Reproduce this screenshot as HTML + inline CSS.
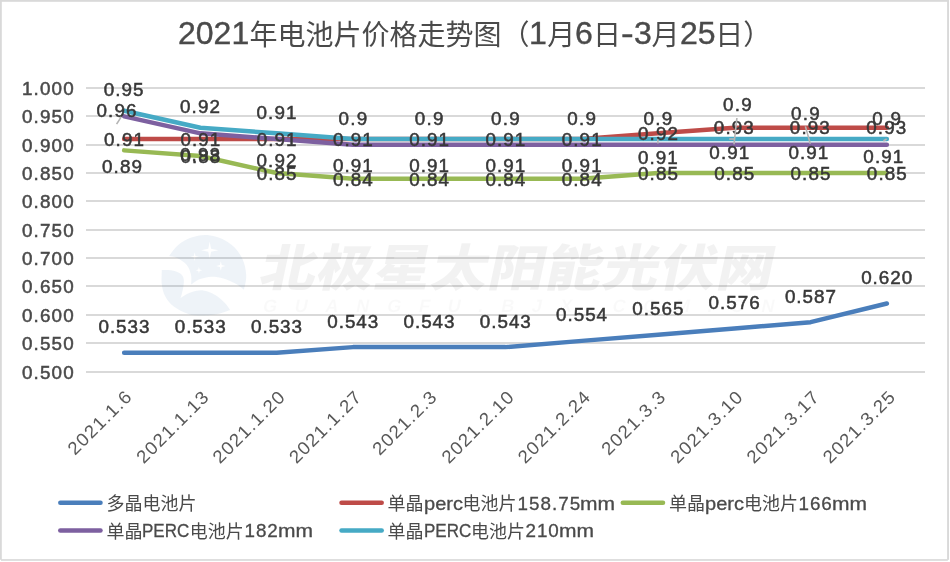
<!DOCTYPE html>
<html lang="zh-CN">
<head>
<meta charset="utf-8">
<title>2021年电池片价格走势图（1月6日-3月25日）</title>
<style>
html,body{margin:0;padding:0;background:#fff;}
body{width:950px;height:562px;overflow:hidden;position:relative;}
#chart{position:absolute;left:0;top:0;width:950px;height:562px;overflow:hidden;background:#fff;}
#chart svg{position:absolute;left:0;top:0;display:block;}
svg text{font-family:"Liberation Sans", sans-serif;}
.t{position:absolute;white-space:nowrap;font-family:"Liberation Sans", "Noto Sans CJK SC", sans-serif;margin:0;padding:0;font-weight:400;}
.t .l{display:inline-block;font-weight:normal;transform-origin:0 50%;-webkit-text-stroke:0.3px;position:relative;}
#title .l{top:-1px;-webkit-text-stroke:0.4px;}
.lg .l{top:-0.3px;}
#title{left:178.2px;top:17.5px;font-size:28px;line-height:34px;height:34px;color:#4a4a4a;}
.lg{font-size:18px;line-height:24px;height:24px;color:#4a4a4a;}
.ax{fill:#4a4a4a;stroke:#4a4a4a;stroke-width:0.5px;font-size:18.1px;}
.dl{fill:#383838;stroke:#383838;stroke-width:0.5px;font-size:18.1px;text-anchor:middle;}
svg text.wm{font-family:"Liberation Sans","Noto Sans CJK SC",sans-serif;font-weight:900;}
</style>
</head>
<body>
<div id="chart">
<svg width="950" height="562" viewBox="0 0 950 562">
<rect x="0" y="0" width="950" height="562" fill="#ffffff"/>
<g fill="#d9d9d9">
<rect x="0" y="0" width="948" height="1.8"/>
<rect x="0" y="0" width="1.8" height="559.8"/>
<rect x="947.1" y="0" width="1.9" height="559.8"/>
<rect x="1" y="559.15" width="946.8" height="1.65"/>
</g>
<g stroke="#d9d9d9" stroke-width="2" fill="none">
<line x1="86" y1="88" x2="925" y2="88"/>
<line x1="86" y1="116" x2="925" y2="116"/>
<line x1="86" y1="145" x2="925" y2="145"/>
<line x1="86" y1="173" x2="925" y2="173"/>
<line x1="86" y1="201" x2="925" y2="201"/>
<line x1="86" y1="230" x2="925" y2="230"/>
<line x1="86" y1="258" x2="925" y2="258"/>
<line x1="86" y1="286" x2="925" y2="286"/>
<line x1="86" y1="315" x2="925" y2="315"/>
<line x1="86" y1="343" x2="925" y2="343"/>
<line x1="86" y1="372" x2="925" y2="372"/>
</g>
<g fill="none" stroke-width="4.5" stroke-linecap="round" stroke-linejoin="round">
<polyline stroke="#4a7ebb" points="124.14,352.79 200.41,352.79 276.68,352.79 352.95,347.12 429.23,347.12 505.50,347.12 581.77,340.88 658.05,334.65 734.32,328.41 810.59,322.17 886.86,303.46"/>
<polyline stroke="#be4b48" points="124.14,139.03 200.41,139.03 276.68,139.03 352.95,139.03 429.23,139.03 505.50,139.03 581.77,139.03 658.05,133.36 734.32,127.69 810.59,127.69 886.86,127.69"/>
<polyline stroke="#98b954" points="124.14,150.37 200.41,156.04 276.68,173.05 352.95,178.72 429.23,178.72 505.50,178.72 581.77,178.72 658.05,173.05 734.32,173.05 810.59,173.05 886.86,173.05"/>
<polyline stroke="#7d60a0" points="124.14,116.35 200.41,133.36 276.68,139.03 352.95,144.70 429.23,144.70 505.50,144.70 581.77,144.70 658.05,144.70 734.32,144.70 810.59,144.70 886.86,144.70"/>
<polyline stroke="#46aac5" points="124.14,110.68 200.41,127.69 276.68,133.36 352.95,139.03 429.23,139.03 505.50,139.03 581.77,139.03 658.05,139.03 734.32,139.03 810.59,139.03 886.86,139.03"/>
</g>
<g class="ax" text-anchor="end">
<text transform="translate(73.6 94.60) scale(1.04 1)" textLength="49.70" lengthAdjust="spacing">1.000</text>
<text transform="translate(73.6 122.60) scale(1.04 1)" textLength="49.70" lengthAdjust="spacing">0.950</text>
<text transform="translate(73.6 151.60) scale(1.04 1)" textLength="49.70" lengthAdjust="spacing">0.900</text>
<text transform="translate(73.6 179.60) scale(1.04 1)" textLength="49.70" lengthAdjust="spacing">0.850</text>
<text transform="translate(73.6 207.60) scale(1.04 1)" textLength="49.70" lengthAdjust="spacing">0.800</text>
<text transform="translate(73.6 236.60) scale(1.04 1)" textLength="49.70" lengthAdjust="spacing">0.750</text>
<text transform="translate(73.6 264.60) scale(1.04 1)" textLength="49.70" lengthAdjust="spacing">0.700</text>
<text transform="translate(73.6 292.60) scale(1.04 1)" textLength="49.70" lengthAdjust="spacing">0.650</text>
<text transform="translate(73.6 321.60) scale(1.04 1)" textLength="49.70" lengthAdjust="spacing">0.600</text>
<text transform="translate(73.6 349.60) scale(1.04 1)" textLength="49.70" lengthAdjust="spacing">0.550</text>
<text transform="translate(73.6 378.60) scale(1.04 1)" textLength="49.70" lengthAdjust="spacing">0.500</text>
</g>
<g class="ax" text-anchor="end" style="fill:#595959;stroke:#595959;stroke-width:0.0px">
<text transform="translate(132.75 398.30) rotate(-45) scale(1.04 1)" textLength="78.61" lengthAdjust="spacing">2021.1.6</text>
<text transform="translate(209.72 398.50) rotate(-45) scale(1.04 1)" textLength="89.61" lengthAdjust="spacing">2021.1.13</text>
<text transform="translate(286.00 398.50) rotate(-45) scale(1.04 1)" textLength="89.61" lengthAdjust="spacing">2021.1.20</text>
<text transform="translate(362.27 398.50) rotate(-45) scale(1.04 1)" textLength="89.61" lengthAdjust="spacing">2021.1.27</text>
<text transform="translate(437.64 398.50) rotate(-45) scale(1.04 1)" textLength="78.61" lengthAdjust="spacing">2021.2.3</text>
<text transform="translate(514.81 398.50) rotate(-45) scale(1.04 1)" textLength="89.61" lengthAdjust="spacing">2021.2.10</text>
<text transform="translate(591.09 398.50) rotate(-45) scale(1.04 1)" textLength="89.61" lengthAdjust="spacing">2021.2.24</text>
<text transform="translate(666.46 398.50) rotate(-45) scale(1.04 1)" textLength="78.61" lengthAdjust="spacing">2021.3.3</text>
<text transform="translate(743.63 398.50) rotate(-45) scale(1.04 1)" textLength="89.61" lengthAdjust="spacing">2021.3.10</text>
<text transform="translate(819.90 398.50) rotate(-45) scale(1.04 1)" textLength="89.61" lengthAdjust="spacing">2021.3.17</text>
<text transform="translate(896.18 398.50) rotate(-45) scale(1.04 1)" textLength="89.61" lengthAdjust="spacing">2021.3.25</text>
</g>
<g class="dl">
<text transform="translate(123.94 333.39) scale(1.04 1)" textLength="49.05" lengthAdjust="spacing">0.533</text>
<text transform="translate(200.21 333.39) scale(1.04 1)" textLength="49.05" lengthAdjust="spacing">0.533</text>
<text transform="translate(276.48 333.39) scale(1.04 1)" textLength="49.05" lengthAdjust="spacing">0.533</text>
<text transform="translate(352.75 327.72) scale(1.04 1)" textLength="49.05" lengthAdjust="spacing">0.543</text>
<text transform="translate(429.03 327.72) scale(1.04 1)" textLength="49.05" lengthAdjust="spacing">0.543</text>
<text transform="translate(505.30 327.72) scale(1.04 1)" textLength="49.05" lengthAdjust="spacing">0.543</text>
<text transform="translate(581.57 321.48) scale(1.04 1)" textLength="49.05" lengthAdjust="spacing">0.554</text>
<text transform="translate(657.85 315.25) scale(1.04 1)" textLength="49.05" lengthAdjust="spacing">0.565</text>
<text transform="translate(734.12 309.01) scale(1.04 1)" textLength="49.05" lengthAdjust="spacing">0.576</text>
<text transform="translate(810.39 302.77) scale(1.04 1)" textLength="49.05" lengthAdjust="spacing">0.587</text>
<text transform="translate(886.66 284.06) scale(1.04 1)" textLength="49.05" lengthAdjust="spacing">0.620</text>
<text transform="translate(124.00 145.83) scale(1.04 1)" textLength="38.32" lengthAdjust="spacing">0.91</text>
<text transform="translate(200.31 145.83) scale(1.04 1)" textLength="38.32" lengthAdjust="spacing">0.91</text>
<text transform="translate(276.58 145.83) scale(1.04 1)" textLength="38.32" lengthAdjust="spacing">0.91</text>
<text transform="translate(352.85 145.83) scale(1.04 1)" textLength="38.32" lengthAdjust="spacing">0.91</text>
<text transform="translate(429.13 145.83) scale(1.04 1)" textLength="38.32" lengthAdjust="spacing">0.91</text>
<text transform="translate(505.40 145.83) scale(1.04 1)" textLength="38.32" lengthAdjust="spacing">0.91</text>
<text transform="translate(581.67 145.83) scale(1.04 1)" textLength="38.32" lengthAdjust="spacing">0.91</text>
<text transform="translate(657.95 140.16) scale(1.04 1)" textLength="38.32" lengthAdjust="spacing">0.92</text>
<text transform="translate(733.80 134.49) scale(1.04 1)" textLength="38.32" lengthAdjust="spacing">0.93</text>
<text transform="translate(809.80 134.49) scale(1.04 1)" textLength="38.32" lengthAdjust="spacing">0.93</text>
<text transform="translate(886.20 134.49) scale(1.04 1)" textLength="38.32" lengthAdjust="spacing">0.93</text>
<text transform="translate(122.00 173.00) scale(1.04 1)" textLength="38.32" lengthAdjust="spacing">0.89</text>
<text transform="translate(200.31 162.84) scale(1.04 1)" textLength="38.32" lengthAdjust="spacing">0.88</text>
<text transform="translate(276.58 179.85) scale(1.04 1)" textLength="38.32" lengthAdjust="spacing">0.85</text>
<text transform="translate(352.85 185.52) scale(1.04 1)" textLength="38.32" lengthAdjust="spacing">0.84</text>
<text transform="translate(429.13 185.52) scale(1.04 1)" textLength="38.32" lengthAdjust="spacing">0.84</text>
<text transform="translate(505.40 185.52) scale(1.04 1)" textLength="38.32" lengthAdjust="spacing">0.84</text>
<text transform="translate(581.67 185.52) scale(1.04 1)" textLength="38.32" lengthAdjust="spacing">0.84</text>
<text transform="translate(657.95 179.85) scale(1.04 1)" textLength="38.32" lengthAdjust="spacing">0.85</text>
<text transform="translate(734.22 179.85) scale(1.04 1)" textLength="38.32" lengthAdjust="spacing">0.85</text>
<text transform="translate(810.49 179.85) scale(1.04 1)" textLength="38.32" lengthAdjust="spacing">0.85</text>
<text transform="translate(886.76 179.85) scale(1.04 1)" textLength="38.32" lengthAdjust="spacing">0.85</text>
<text transform="translate(123.65 96.00) scale(1.04 1)" textLength="38.32" lengthAdjust="spacing">0.95</text>
<text transform="translate(200.00 113.00) scale(1.04 1)" textLength="38.32" lengthAdjust="spacing">0.92</text>
<text transform="translate(276.50 118.90) scale(1.04 1)" textLength="38.32" lengthAdjust="spacing">0.91</text>
<text transform="translate(352.85 124.80) scale(1.04 1)" textLength="27.59" lengthAdjust="spacing">0.9</text>
<text transform="translate(429.13 124.80) scale(1.04 1)" textLength="27.59" lengthAdjust="spacing">0.9</text>
<text transform="translate(505.40 124.80) scale(1.04 1)" textLength="27.59" lengthAdjust="spacing">0.9</text>
<text transform="translate(581.67 124.80) scale(1.04 1)" textLength="27.59" lengthAdjust="spacing">0.9</text>
<text transform="translate(657.90 124.70) scale(1.04 1)" textLength="27.59" lengthAdjust="spacing">0.9</text>
<text transform="translate(737.40 111.00) scale(1.04 1)" textLength="27.59" lengthAdjust="spacing">0.9</text>
<text transform="translate(805.40 119.70) scale(1.04 1)" textLength="27.59" lengthAdjust="spacing">0.9</text>
<text transform="translate(886.70 124.50) scale(1.04 1)" textLength="27.59" lengthAdjust="spacing">0.9</text>
<text transform="translate(116.50 117.00) scale(1.04 1)" textLength="38.32" lengthAdjust="spacing">0.96</text>
<text transform="translate(200.00 161.20) scale(1.04 1)" textLength="38.32" lengthAdjust="spacing">0.93</text>
<text transform="translate(276.50 167.20) scale(1.04 1)" textLength="38.32" lengthAdjust="spacing">0.92</text>
<text transform="translate(352.85 172.30) scale(1.04 1)" textLength="38.32" lengthAdjust="spacing">0.91</text>
<text transform="translate(429.13 172.30) scale(1.04 1)" textLength="38.32" lengthAdjust="spacing">0.91</text>
<text transform="translate(505.40 172.30) scale(1.04 1)" textLength="38.32" lengthAdjust="spacing">0.91</text>
<text transform="translate(581.67 172.30) scale(1.04 1)" textLength="38.32" lengthAdjust="spacing">0.91</text>
<text transform="translate(657.90 163.80) scale(1.04 1)" textLength="38.32" lengthAdjust="spacing">0.91</text>
<text transform="translate(729.30 159.00) scale(1.04 1)" textLength="38.32" lengthAdjust="spacing">0.91</text>
<text transform="translate(808.40 158.50) scale(1.04 1)" textLength="38.32" lengthAdjust="spacing">0.91</text>
<text transform="translate(883.30 163.30) scale(1.04 1)" textLength="38.32" lengthAdjust="spacing">0.91</text>
</g>
<g stroke="#b4b4b4" stroke-width="1.6" fill="none">
<line x1="121.2" y1="116.8" x2="116.6" y2="124.2"/>
<line x1="657.9" y1="139.2" x2="657.9" y2="143.6"/>
<line x1="736.9" y1="118.0" x2="734.0" y2="144.4"/>
<line x1="729.2" y1="139.0" x2="734.2" y2="139.0"/>
<line x1="805.4" y1="126.4" x2="810.3" y2="143.8"/>
<line x1="883.4" y1="141.0" x2="886.6" y2="139.0"/>
</g>
<g fill="none" stroke-width="4.5" stroke-linecap="round">
<line stroke="#4a7ebb" x1="60.3" y1="502.8" x2="100.5" y2="502.8"/>
<line stroke="#be4b48" x1="341.5" y1="502.8" x2="381.7" y2="502.8"/>
<line stroke="#98b954" x1="622.8" y1="502.8" x2="663.0" y2="502.8"/>
<line stroke="#7d60a0" x1="60.3" y1="530.6" x2="100.5" y2="530.6"/>
<line stroke="#46aac5" x1="341.5" y1="530.6" x2="381.7" y2="530.6"/>
</g>
<g id="watermark">
<path fill="#2a69a7" fill-opacity="0.08" fill-rule="evenodd" d="M169.1 256.0 C170.4 254.4 173.7 249.2 176.6 246.4 C179.5 243.7 183.0 241.3 186.6 239.5 C190.1 237.7 194.1 236.4 198.1 235.7 C202.0 235.0 206.3 234.9 210.2 235.4 C214.2 235.9 218.3 237.1 221.9 238.7 C225.6 240.4 229.1 242.7 232.1 245.3 C235.2 247.9 237.9 251.2 240.0 254.6 C242.1 258.0 243.8 261.8 244.8 265.7 C245.8 269.6 246.3 273.8 246.2 277.8 C246.0 281.8 244.3 287.7 244.0 289.7 C242.5 288.7 238.8 285.4 235.3 283.6 C231.9 281.7 227.4 279.6 223.4 278.4 C219.4 277.3 215.4 276.6 211.4 276.7 C207.4 276.9 202.8 278.0 199.4 279.3 C196.1 280.6 192.6 283.6 191.2 284.4 C191.2 282.7 191.7 277.4 190.9 274.2 C190.1 270.9 188.9 267.5 186.6 264.8 C184.3 262.0 180.1 259.4 177.2 257.9 C174.3 256.5 170.5 256.3 169.1 256.0 Z M209.7 241.7 L211.1 248.8 L218.2 250.2 L211.1 251.7 L209.7 258.7 L208.3 251.7 L201.2 250.2 L208.3 248.8 Z M194.7 252.5 L195.5 255.9 L198.9 256.7 L195.5 257.6 L194.7 260.9 L193.8 257.6 L190.5 256.7 L193.8 255.9 Z M220.8 261.3 L221.7 265.0 L225.4 265.9 L221.7 266.9 L220.8 270.5 L219.9 266.9 L216.2 265.9 L219.9 265.0 Z M198.9 267.0 L199.6 269.6 L202.1 270.2 L199.6 270.9 L198.9 273.4 L198.3 270.9 L195.7 270.2 L198.3 269.6 Z"/>
<path fill="#2a69a7" fill-opacity="0.08" d="M161.8 269.9 C163.5 270.0 169.0 269.7 172.1 270.4 C175.2 271.0 178.7 272.3 180.6 273.8 C182.6 275.3 183.3 276.9 183.7 279.3 C184.1 281.6 183.7 284.7 183.2 287.8 C182.7 291.0 181.1 296.4 180.6 298.1 C182.1 297.2 185.5 294.2 189.2 293.0 C192.9 291.7 198.6 290.1 202.9 290.4 C207.1 290.7 211.1 292.5 214.8 294.7 C218.5 296.8 222.5 300.6 225.1 303.2 C227.6 305.8 229.4 308.9 230.2 310.1 C228.5 310.6 224.2 312.6 220.0 313.5 C215.7 314.4 209.7 315.4 204.6 315.5 C199.4 315.7 194.3 315.8 189.2 314.3 C184.1 312.8 177.8 309.6 173.8 306.6 C169.8 303.6 167.3 300.1 165.3 296.4 C163.3 292.7 162.4 288.8 161.8 284.4 C161.3 280.0 161.8 272.3 161.8 269.9 Z"/>
<text class="wm" transform="translate(257.5 285.5) skewX(-12) scale(1.13 1)" font-size="50" letter-spacing="0.6" fill="#000000" fill-opacity="0.052">北极星太阳能光伏网</text>
<text transform="translate(262 312.3) skewX(-12)" font-size="18" font-weight="bold" letter-spacing="17.8" fill="#000000" fill-opacity="0.024">GUANGFU.BJX.COM.CN</text>
</g>
</svg>
<h1 id="title" class="t"><span class="l" style="font-size:31px;width:71.20px;transform:scaleX(1.0323)">2021</span>年电池片价格走势图（<span class="l" style="font-size:31px;width:17.80px;transform:scaleX(1.0323)">1</span>月<span class="l" style="font-size:31px;width:17.80px;transform:scaleX(1.0323)">6</span>日<span class="l" style="font-size:31px;width:12.71px;transform:scaleX(1.2298)">-</span><span class="l" style="font-size:31px;width:17.80px;transform:scaleX(1.0323)">3</span>月<span class="l" style="font-size:31px;width:35.60px;transform:scaleX(1.0323)">25</span>日）</h1>
<div class="t lg" style="left:106.4px;top:491.9px">多晶电池片</div>
<div class="t lg" style="left:387.6px;top:491.9px">单晶<span class="l" style="font-size:18.1px;width:39.00px;transform:scaleX(1.1075)">perc</span>电池片<span class="l" style="font-size:18.1px;width:63.76px;letter-spacing:0.99px;text-indent:0.50px;transform:scaleX(1.0400)">158.75</span><span class="l" style="font-size:18.1px;width:35.02px;transform:scaleX(1.1613)">mm</span></div>
<div class="t lg" style="left:668.9px;top:491.9px">单晶<span class="l" style="font-size:18.1px;width:39.00px;transform:scaleX(1.1075)">perc</span>电池片<span class="l" style="font-size:18.1px;width:34.33px;letter-spacing:0.94px;text-indent:0.47px;transform:scaleX(1.0400)">166</span><span class="l" style="font-size:18.1px;width:35.02px;transform:scaleX(1.1613)">mm</span></div>
<div class="t lg" style="left:106.4px;top:519.7px">单晶<span class="l" style="font-size:18.1px;width:47.32px;transform:scaleX(0.9409)">PERC</span>电池片<span class="l" style="font-size:18.1px;width:34.33px;letter-spacing:0.94px;text-indent:0.47px;transform:scaleX(1.0400)">182</span><span class="l" style="font-size:18.1px;width:35.02px;transform:scaleX(1.1613)">mm</span></div>
<div class="t lg" style="left:387.6px;top:519.7px">单晶<span class="l" style="font-size:18.1px;width:47.32px;transform:scaleX(0.9409)">PERC</span>电池片<span class="l" style="font-size:18.1px;width:34.33px;letter-spacing:0.94px;text-indent:0.47px;transform:scaleX(1.0400)">210</span><span class="l" style="font-size:18.1px;width:35.02px;transform:scaleX(1.1613)">mm</span></div>
</div>
</body>
</html>
